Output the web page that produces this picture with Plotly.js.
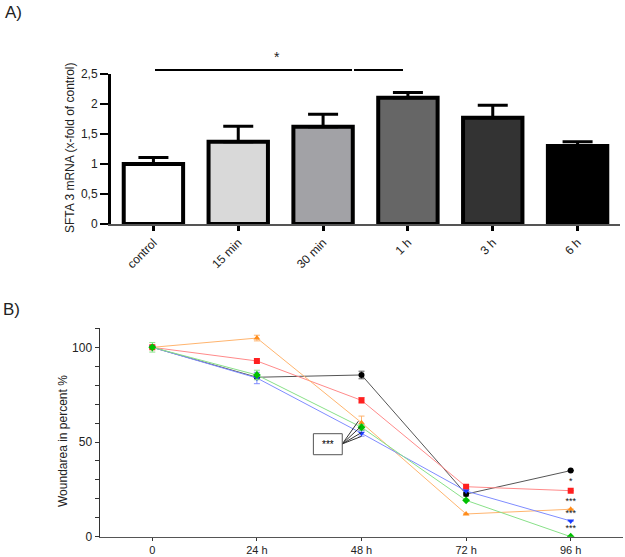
<!DOCTYPE html>
<html>
<head>
<meta charset="utf-8">
<script src="https://cdn.plot.ly/plotly-3.0.1.min.js"></script>
<style>
    html, body { margin: 0; padding: 0; background: #fff; }
    #chart { width: 625px; height: 557px; }
</style>
</head>
<body>
<div id="chart"></div>
<script>
// Panel A: SFTA3 mRNA
const timeLabels = ["control", "15 min", "30 min", "1 h", "3 h", "6 h"];
const mrnaValues = [1.0, 1.37, 1.62, 2.105, 1.77, 1.30];
const mrnaErrors = [0.11, 0.26, 0.21, 0.085, 0.21, 0.07];
const barColors = ["#ffffff", "#d9d9d9", "#a2a2a6", "#666666", "#333333", "#000000"];

// Panel B: wound area
const woundTimes = ["0", "24 h", "48 h", "72 h", "96 h"];
const blackValues = [100, 84.2, 85.4, 22.5, 34.9];
const blackErrors = [0, 0, 2, 1, 0];
const redValues = [100, 92.8, 72.0, 26.4, 24.3];
const redErrors = [0, 0, 1.5, 1, 0];
const orangeValues = [100, 104.9, 60.2, 12.0, 14.5];
const orangeErrors = [0, 1.5, 3.5, 0, 0];
const blueValues = [100, 83.8, 54.6, 24.1, 8.3];
const blueErrors = [0, 3, 1.5, 0, 0];
const greenValues = [100, 85.4, 57.8, 19.2, 0];
const greenErrors = [2.5, 2.5, 1.5, 0, 0];

const starLabels = ["*", "***", "***", "***"];
const starValues = [29, 18.5, 12, 4];

const FONT = "Liberation Sans, Arial, sans-serif";

// pixel -> paper helpers (figure is 625 x 557)
const px = x => x / 625;
const py = y => 1 - y / 557;

function lineTrace(values, errors, lineColor, markerColor, symbol) {
    return {
        x: [0, 1, 2, 3, 4],
        y: values,
        type: "scatter",
        mode: "lines+markers",
        xaxis: "x2",
        yaxis: "y2",
        line: { color: lineColor, width: 1 },
        marker: { color: markerColor, symbol: symbol, size: 6 },
        error_y: {
            type: "data",
            array: errors,
            visible: true,
            color: lineColor,
            thickness: 1,
            width: 3
        },
        showlegend: false,
        hoverinfo: "skip"
    };
}

const barTrace = {
    x: timeLabels,
    y: mrnaValues,
    type: "bar",
    width: 0.7,
    marker: {
        color: barColors,
        line: { color: "#000", width: 4 }
    },
    error_y: {
        type: "data",
        symmetric: false,
        array: mrnaErrors,
        arrayminus: mrnaValues.map(() => 0),
        color: "#000",
        thickness: 3,
        width: 15
    },
    showlegend: false
};

const traces = [
    barTrace,
    lineTrace(blackValues, blackErrors, "#555555", "#000000", "circle"),
    lineTrace(redValues, redErrors, "#ff8a8a", "#ff2020", "square"),
    lineTrace(orangeValues, orangeErrors, "#ffb46e", "#ff8c1a", "triangle-up"),
    lineTrace(blueValues, blueErrors, "#7f8cff", "#1a3cff", "triangle-down"),
    lineTrace(greenValues, greenErrors, "#88e088", "#00c000", "diamond"),
    {
        x: [4, 4, 4, 4],
        y: starValues,
        text: starLabels,
        type: "scatter",
        mode: "text",
        xaxis: "x2",
        yaxis: "y2",
        cliponaxis: false,
        textfont: { family: FONT, size: 9, color: "#111" },
        showlegend: false,
        hoverinfo: "skip"
    }
];

const layout = {
    width: 625,
    height: 557,
    margin: { l: 0, r: 0, t: 0, b: 0 },
    paper_bgcolor: "#fff",
    plot_bgcolor: "rgba(0,0,0,0)",
    separators: ",.",
    font: { family: FONT, color: "#222" },
    showlegend: false,
    bargap: 0.3,

    xaxis: {
        domain: [px(111), px(620)],
        anchor: "y",
        type: "category",
        range: [-0.5, 5.5],
        showgrid: false,
        zeroline: false,
        showline: true,
        linecolor: "#555",
        linewidth: 2,
        ticks: "outside",
        ticklen: 5,
        tickwidth: 3,
        tickcolor: "#000",
        tickangle: -45,
        tickfont: { size: 12, color: "#222" }
    },
    yaxis: {
        domain: [py(224), py(74)],
        anchor: "x",
        range: [0, 2.5],
        tickvals: [0, 0.5, 1, 1.5, 2, 2.5],
        showgrid: false,
        zeroline: false,
        showline: true,
        linecolor: "#000",
        linewidth: 3,
        ticks: "outside",
        ticklen: 8,
        tickwidth: 2,
        tickcolor: "#000",
        tickfont: { size: 12, color: "#222" }
    },

    xaxis2: {
        domain: [px(100), px(623)],
        anchor: "y2",
        range: [-0.5, 4.5],
        tickvals: [0, 1, 2, 3, 4],
        ticktext: woundTimes,
        showgrid: false,
        zeroline: false,
        showline: true,
        linecolor: "#555",
        linewidth: 1.5,
        ticks: "outside",
        ticklen: 3,
        tickwidth: 1,
        tickcolor: "#333",
        tickfont: { size: 11, color: "#222" }
    },
    yaxis2: {
        domain: [py(536.7), py(328.4)],
        anchor: "x2",
        range: [0, 110],
        tickvals: [0, 10, 20, 30, 40, 50, 60, 70, 80, 90, 100, 110],
        ticktext: ["0", "", "", "", "", "50", "", "", "", "", "100", ""],
        showgrid: false,
        zeroline: false,
        showline: true,
        linecolor: "#333",
        linewidth: 1.5,
        ticks: "outside",
        ticklen: 4,
        tickwidth: 1,
        tickcolor: "#333",
        tickfont: { size: 12, color: "#222" }
    },

    shapes: [
        // significance bar over panel A
        { type: "line", xref: "paper", yref: "paper", x0: px(155), x1: px(352), y0: py(70), y1: py(70),
          line: { color: "#000", width: 2 } },
        { type: "line", xref: "paper", yref: "paper", x0: px(354), x1: px(403), y0: py(70), y1: py(70),
          line: { color: "#000", width: 2 } },
        // pointer lines from the *** box to the 48 h points
        { type: "line", xref: "x2", yref: "y2", x0: 1.816, y0: 49, x1: 1.97, y1: 61,
          line: { color: "#333", width: 1 } },
        { type: "line", xref: "x2", yref: "y2", x0: 1.816, y0: 49, x1: 1.99, y1: 58,
          line: { color: "#333", width: 1 } },
        { type: "line", xref: "x2", yref: "y2", x0: 1.816, y0: 49, x1: 2.0, y1: 55,
          line: { color: "#333", width: 1 } },
        { type: "line", xref: "x2", yref: "y2", x0: 1.816, y0: 49, x1: 2.0, y1: 53,
          line: { color: "#333", width: 1 } },
        // the *** box
        { type: "rect", xref: "x2", yref: "y2", x0: 1.54, x1: 1.816, y0: 43.3, y1: 54.4,
          fillcolor: "#fff", line: { color: "#555", width: 1 } }
    ],

    annotations: [
        { text: "A)", xref: "paper", yref: "paper", x: px(3), y: py(12),
          xanchor: "left", yanchor: "middle", showarrow: false,
          font: { size: 17, color: "#222" } },
        { text: "B)", xref: "paper", yref: "paper", x: px(1), y: py(309),
          xanchor: "left", yanchor: "middle", showarrow: false,
          font: { size: 17, color: "#222" } },
        { text: "*", xref: "paper", yref: "paper", x: px(277), y: py(57),
          xanchor: "center", yanchor: "middle", showarrow: false,
          font: { size: 14, color: "#222" } },
        { text: "SFTA 3 mRNA (x-fold of control)", xref: "paper", yref: "paper",
          x: px(70), y: py(148), textangle: -90,
          xanchor: "center", yanchor: "middle", showarrow: false,
          font: { size: 12, color: "#222" } },
        { text: "Woundarea in percent %", xref: "paper", yref: "paper",
          x: px(63), y: py(441), textangle: -90,
          xanchor: "center", yanchor: "middle", showarrow: false,
          font: { size: 12, color: "#222" } },
        { text: "***", xref: "x2", yref: "y2", x: 1.678, y: 48.8,
          xanchor: "center", yanchor: "middle", showarrow: false,
          font: { size: 10, color: "#000" } }
    ]
};

Plotly.newPlot("chart", traces, layout, { staticPlot: true });
</script>
</body>
</html>
